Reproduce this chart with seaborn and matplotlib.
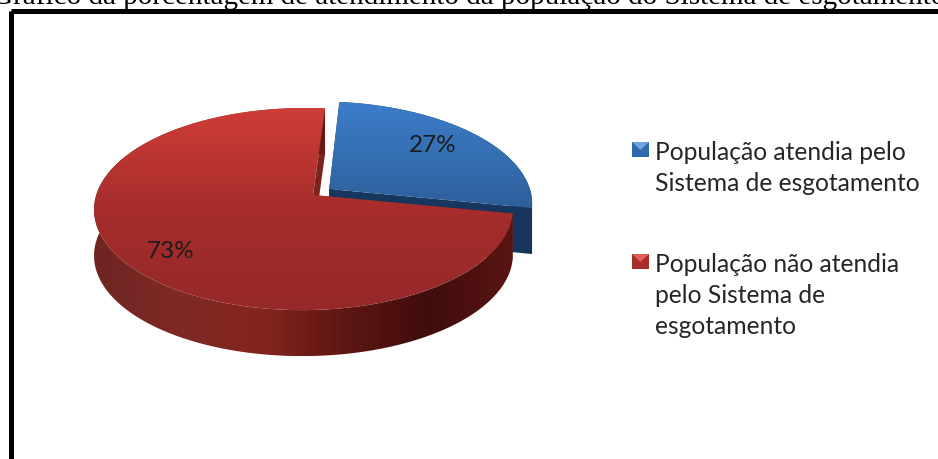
import numpy as np
import seaborn as sns
import matplotlib
matplotlib.use('Agg')
import matplotlib.pyplot as plt
from matplotlib.collections import PolyCollection
from matplotlib.patches import PathPatch, Polygon, Rectangle
from matplotlib.path import Path
from matplotlib.transforms import Affine2D

title = 'Gráfico da porcentagem de atendimento da população do Sistema de esgotamento'
categories = ['População atendia pelo\nSistema de esgotamento',
              'População não atendia\npelo Sistema de\nesgotamento']
shares = [27, 73]

sns.set_theme(style='white')
plt.rcParams['font.family'] = ['Lato', 'DejaVu Sans']

# colours for top surface (top -> bottom) and the side wall (left -> right)
top_cmaps = [sns.blend_palette(['#3d7ecb', '#2d5f9a'], as_cmap=True),
             sns.blend_palette(['#cf3d39', '#a62d2b', '#96282a'], as_cmap=True)]
side_cmaps = [sns.blend_palette(['#17365d', '#17365d'], as_cmap=True),
              sns.blend_palette(['#6e2420', '#7f2a25', '#85241f', '#5e1613',
                                 '#3e0d0c', '#5a1513'], as_cmap=True)]
face_colors = ['#17365d', '#7a2420']
key_colors = [('#2f6aad', '#6fa3dc'), ('#a82d2b', '#e0605a')]
pct_nudge = [(-3, -5), (-13, 8)]

fig = plt.figure(figsize=(9.38, 4.60), dpi=100)
ax = fig.add_axes([0, 0, 1, 1])

wedges, _, pcts = ax.pie(shares, startangle=-11, explode=[0.10, 0], autopct='%d%%',
                         pctdistance=0.72, textprops={'fontsize': 17.5, 'color': '#1c1c1c'})
wedges[0].set_radius(1.03)

# tilt the flat pie: perspective projection into pixel coords
apex_x, apex_y = 313, 196
def project(xy):
    xy = np.asarray(xy, dtype=float)
    w = 1 + 0.139 * xy[..., 1] + 0.045 * xy[..., 0]
    return np.stack([apex_x + 207 * xy[..., 0] / w, apex_y - 99 * xy[..., 1] / w], axis=-1)

depth = 46
drop = np.array([0, depth])

for i, wedge in enumerate(wedges):
    # flatten bezier arc to a polygon (scaled up so it comes out smooth)
    big = wedge.get_path().transformed(Affine2D().scale(3000))
    outline = project(big.to_polygons()[0] / 3000)
    wedge.set_visible(False)
    # keep the apex where the outline starts, whichever way round it comes back
    apex_idx = np.argmin(np.hypot(*(outline - project(np.array(wedge.center))).T))
    outline = np.roll(outline[:-1], -apex_idx, axis=0)
    arc = outline[1:]

    # the two cut faces
    faces = [[outline[0], arc[0], arc[0] + drop, outline[0] + drop],
             [outline[0], arc[-1], arc[-1] + drop, outline[0] + drop]]
    ax.add_collection(PolyCollection(faces, facecolors=face_colors[i], edgecolors='none',
                                     zorder=1 + 3 * i))

    # rounded wall, horizontal gradient
    band = np.vstack([arc, (arc + drop)[::-1]])
    wall = ax.imshow(np.linspace(0, 1, 256).reshape(1, -1), cmap=side_cmaps[i], aspect='auto',
                     zorder=2 + 3 * i, extent=[arc[:, 0].min(), arc[:, 0].max(),
                                               arc[:, 1].max() + depth, arc[:, 1].min()])
    wall_clip = PathPatch(Path(band, closed=False), transform=ax.transData,
                          facecolor='none', edgecolor='none')
    ax.add_patch(wall_clip)
    wall.set_clip_path(wall_clip)

    # top surface, vertical gradient
    y0, y1 = outline[:, 1].min(), outline[:, 1].max()
    im = ax.imshow(np.linspace(0, 1, 256).reshape(-1, 1), cmap=top_cmaps[i], aspect='auto',
                   zorder=3 + 3 * i, extent=[outline[:, 0].min(), outline[:, 0].max(), y1, y0])
    clip = PathPatch(Path(outline), transform=ax.transData, facecolor='none', edgecolor='none')
    ax.add_patch(clip)
    im.set_clip_path(clip)

    pcts[i].set_position(project(pcts[i].get_position()) + pct_nudge[i])
    pcts[i].set_zorder(10)

ax.set_aspect('auto')
ax.set_xlim(0, 938)
ax.set_ylim(460, 0)
ax.axis('off')

# black frame, runs off the right and bottom of the picture
ax.add_patch(Rectangle((10.5, 11.5), 1000, 600, facecolor='none', edgecolor='black',
                       linewidth=3.6, zorder=0))
ax.text(-8, 4, title, family='Liberation Serif', fontsize=21, color='black', va='baseline')

# legend
key_y = [151, 263]
for i, (label, y) in enumerate(zip(categories, key_y)):
    dark, light = key_colors[i]
    ax.add_patch(Rectangle((632, y - 8), 17, 15, facecolor=dark, edgecolor='none'))
    ax.add_patch(Polygon([(632, y - 8), (649, y - 8), (640.5, y)], facecolor=light, edgecolor='none'))
    ax.text(655, y - 10, label, fontsize=17.7, color='#262626', va='top', linespacing=1.42)

fig.savefig('out.png', dpi=100)
